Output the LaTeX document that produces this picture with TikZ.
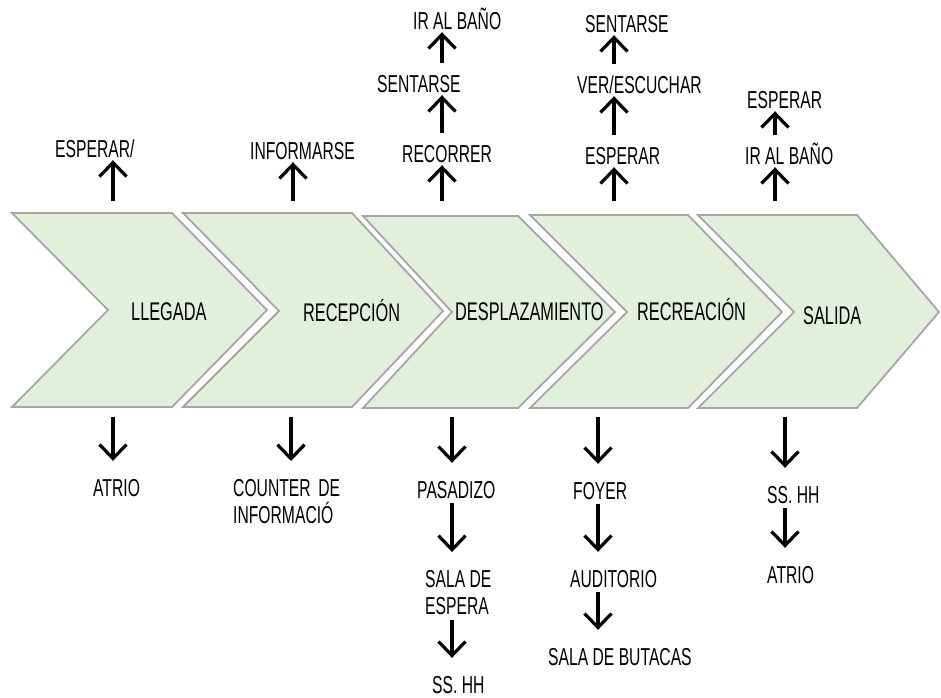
\documentclass[tikz,border=0pt]{standalone}
\usepackage{fontspec}
\setmainfont{Liberation Sans}[FakeStretch=0.64]
\usetikzlibrary{arrows.meta}
\definecolor{verdeclaro}{HTML}{E2EFDA}
\definecolor{grisborde}{HTML}{A6A6A6}

\begin{document}
\begin{tikzpicture}[x=1pt, y=-1pt, >={Straight Barb[length=14pt,width=27pt]},
    chev/.style={fill=verdeclaro, draw=grisborde, line width=1.8pt},
    fase/.style={anchor=base west, inner sep=0pt, font=\fontsize{25.5}{30}\selectfont},
    etq/.style={inner sep=0pt, font=\fontsize{24.5}{27.5}\selectfont},
    linea/.style={etq, anchor=base west, text height=17pt, text depth=0pt},
    sube/.style={->, line width=3.2pt, shorten <=12pt, shorten >=3pt},
    baja/.style={->, line width=3.2pt, shorten <=5pt, shorten >=18pt}]
    \useasboundingbox (0,0) rectangle (941,697);

    % Chevrones del proceso
    \draw[chev] (12,213) -- (172,213) -- (267,310) -- (172,407) -- (12,407) -- (108,310) -- cycle;
    \draw[chev] (183,213) -- (352,213) -- (443,311) -- (352,407) -- (183,407) -- (279,311) -- cycle;
    \draw[chev] (363,216) -- (518,216) -- (615,312) -- (518,408) -- (363,408) -- (452,312) -- cycle;
    \draw[chev] (530,215) -- (688,215) -- (782,312) -- (688,408) -- (530,408) -- (627,312) -- cycle;
    \draw[chev] (698,215) -- (857,215) -- (939,312) -- (857,408) -- (698,408) -- (794,312) -- cycle;

    \node[fase] (llegada) at (131,320) {LLEGADA};
    \node[fase] (recepcion) at (303,321) {RECEPCIÓN};
    \node[fase] (desplaz) at (455,320) {DESPLAZAMIENTO};
    \node[fase] (recreacion) at (637,320) {RECREACIÓN};
    \node[fase] (salida) at (803,324) {SALIDA};

    % Puntos de salida de las flechas
    \coordinate (s1) at (113,213);  \coordinate (b1) at (113,412);
    \coordinate (s2) at (293,213);  \coordinate (b2) at (291,412);
    \coordinate (s3) at (442,213);  \coordinate (b3) at (452,412);
    \coordinate (s4) at (614,213);  \coordinate (b4) at (598,412);
    \coordinate (s5) at (775,213);  \coordinate (b5) at (785,412);

    % Acciones (arriba)
    \node[linea] (esp1) at (55,157) {ESPERAR/};
    \node[linea] (inf2) at (250,159) {INFORMARSE};
    \node[linea] (rec3) at (402,162) {RECORRER};
    \node[linea] (sen3) at (377,92) {SENTARSE};
    \node[linea] (ir3) at (413,29) {IR AL BAÑO};
    \node[linea] (esp4) at (585,164) {ESPERAR};
    \node[linea] (ver4) at (577,93) {VER/ESCUCHAR};
    \node[linea] (sen4) at (585,32) {SENTARSE};
    \node[linea] (ir5) at (745,164) {IR AL BAÑO};
    \node[linea] (esp5) at (747,108) {ESPERAR};

    \draw[sube] (s1) -- (esp1.south -| s1);
    \draw[sube] (s2) -- (inf2.south -| s2);
    \draw[sube] (s3) -- (rec3.south -| s3);
    \draw[sube] (rec3.north -| s3) -- (sen3.south -| s3);
    \draw[sube] (sen3.north -| s3) -- (ir3.south -| s3);
    \draw[sube] (s4) -- (esp4.south -| s4);
    \draw[sube] (esp4.north -| s4) -- (ver4.south -| s4);
    \draw[sube] (ver4.north -| s4) -- (sen4.south -| s4);
    \draw[sube] (s5) -- (ir5.south -| s5);
    \draw[sube] (ir5.north -| s5) -- (esp5.south -| s5);

    % Espacios (abajo)
    \node[linea] (atr1) at (93,496) {ATRIO};
    \node[etq, anchor=north west, align=left] (cou2) at (233,479)
        {\hbox to 107pt{COUNTER\hfill DE}\\INFORMACIÓ};
    \node[linea] (pas3) at (417,498) {PASADIZO};
    \node[etq, anchor=north west, align=left] (sal3) at (425,570) {SALA DE\\ESPERA};
    \node[linea] (ssh3) at (432,693) {SS. HH};
    \node[linea] (foy4) at (573,499) {FOYER};
    \node[linea] (aud4) at (570,587) {AUDITORIO};
    \node[linea] (but4) at (548,665) {SALA DE BUTACAS};
    \node[linea] (ssh5) at (767,503) {SS. HH};
    \node[linea] (atr5) at (767,583) {ATRIO};

    \draw[baja] (b1) -- (atr1.north -| b1);
    \draw[baja] (b2) -- (cou2.north -| b2);
    \draw[baja] (b3) -- (pas3.north -| b3);
    \draw[baja] (pas3.south -| b3) -- (sal3.north -| b3);
    \draw[baja] (sal3.south -| b3) -- (ssh3.north -| b3);
    \draw[baja] (b4) -- (foy4.north -| b4);
    \draw[baja] (foy4.south -| b4) -- (aud4.north -| b4);
    \draw[baja] (aud4.south -| b4) -- (but4.north -| b4);
    \draw[baja] (b5) -- (ssh5.north -| b5);
    \draw[baja] (ssh5.south -| b5) -- (atr5.north -| b5);
\end{tikzpicture}
\end{document}
